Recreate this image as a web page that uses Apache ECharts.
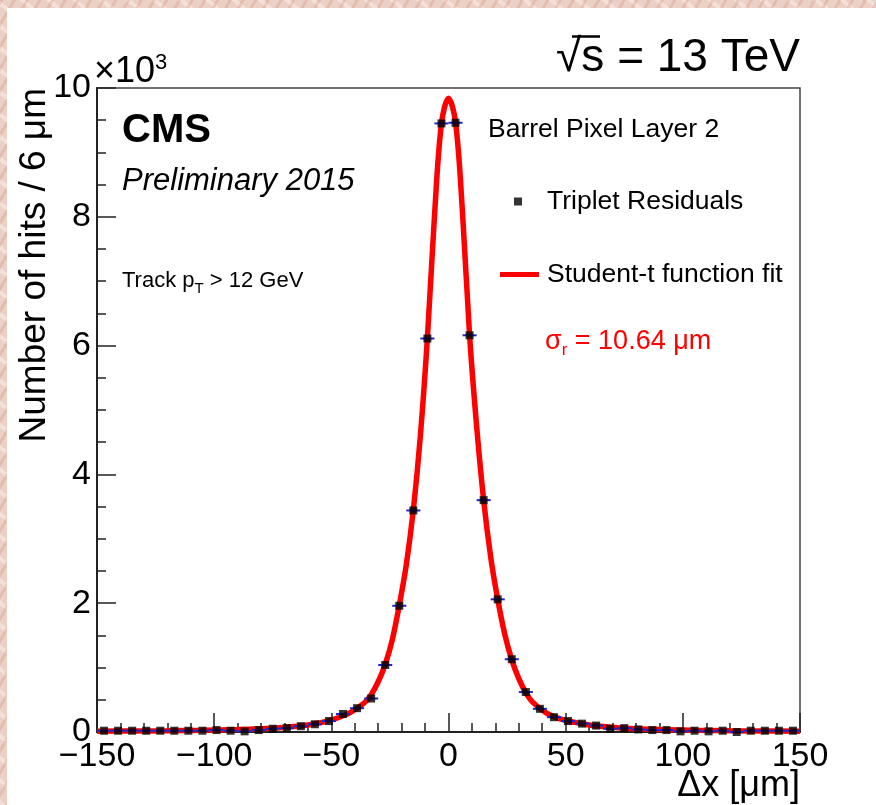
<!DOCTYPE html>
<html>
<head>
<meta charset="utf-8">
<title>Barrel Pixel Layer 2 residuals</title>
<script src="https://cdn.jsdelivr.net/npm/echarts@6/dist/echarts.min.js"></script>
<style>
	html, body { margin: 0; padding: 0; }
	body {
		width: 876px; height: 805px; overflow: hidden;
		background-color: #ead0c5;
		background-image:
			repeating-linear-gradient(120deg, rgba(200,120,100,0.22) 0px, rgba(200,120,100,0.22) 3px, transparent 3px, transparent 11px),
			repeating-linear-gradient(40deg, rgba(255,245,240,0.45) 0px, rgba(255,245,240,0.45) 4px, transparent 4px, transparent 17px);
	}
	#chart { width: 876px; height: 805px; }
</style>
</head>
<body>
<div id="chart"></div>
<script>
	// bin centres of the residual histogram (um), bin width 6 um
	const binWidth = 6
	const binCenters = [
		-147, -141, -135, -129, -123, -117, -111, -105, -99, -93,
		-87, -81, -75, -69, -63, -57, -51, -45, -39, -33,
		-27, -21, -15, -9, -3, 3, 9, 15, 21, 27,
		33, 39, 45, 51, 57, 63, 69, 75, 81, 87,
		93, 99, 105, 111, 117, 123, 129, 135, 141, 147
	]
	// hits per bin, in units of 10^3
	const hits = [
		0.02, 0.02, 0.02, 0.02, 0.02, 0.02, 0.02, 0.02, 0.03, 0.02,
		0.01, 0.03, 0.05, 0.06, 0.09, 0.12, 0.17, 0.28, 0.37, 0.52,
		1.04, 1.96, 3.44, 6.11, 9.45, 9.46, 6.16, 3.60, 2.06, 1.13,
		0.62, 0.36, 0.23, 0.17, 0.13, 0.10, 0.05, 0.06, 0.04, 0.03,
		0.03, 0.01, 0.02, 0.01, 0.02, 0.00, 0.02, 0.02, 0.02, 0.02
	]
	// student-t fit curve
	const fitX = [
		-150, -135, -120, -105, -90, -80, -72, -66, -60, -54, -48, -42,
		-36, -33, -30, -27, -24, -21, -18, -15, -12, -9, -6, -3,
		0,
		3, 6, 9, 12, 15, 18, 21, 24, 27, 30, 33, 36,
		42, 48, 54, 60, 66, 72, 80, 90, 105, 120, 135, 150
	]
	const fitY = [
		0.012, 0.015, 0.019, 0.026, 0.037, 0.05, 0.065, 0.085, 0.11, 0.15, 0.21, 0.3,
		0.45, 0.58, 0.78, 1.05, 1.43, 1.97, 2.6, 3.45, 4.6, 6.12, 8.0, 9.45,
		9.84,
		9.47, 8.05, 6.16, 4.75, 3.6, 2.72, 2.06, 1.52, 1.12, 0.83, 0.61, 0.46,
		0.29, 0.2, 0.15, 0.11, 0.085, 0.065, 0.05, 0.037, 0.026, 0.019, 0.015, 0.012
	]
	const xTicks = { min: -150, max: 150, interval: 50 }
	const yTicks = { min: 0, max: 10, interval: 2 }

	const font = 'Liberation Sans, Arial, Helvetica, sans-serif'
	const axisColor = '#222'

	let points = binCenters.map((x, i) => [x, hits[i]])
	let curve = fitX.map((x, i) => [x, fitY[i]])

	let chart = echarts.init(document.getElementById('chart'))

	let option = {
		animation: false,
		backgroundColor: 'transparent',
		grid: {
			left: 97,
			top: 88,
			right: 76,
			bottom: 73,
			show: true,
			borderColor: '#444',
			borderWidth: 1.5,
			backgroundColor: 'transparent'
		},
		legend: [
			{
				left: 514,
				top: 188,
				padding: 0,
				itemWidth: 8,
				itemHeight: 8,
				selectedMode: false,
				data: [{ name: 'Triplet Residuals', icon: 'rect', itemStyle: { color: '#000' } }],
				textStyle: { fontFamily: font, fontSize: 26.5, color: '#000', padding: [0, 0, 0, 20] }
			},
			{
				left: 500,
				top: 261,
				padding: 0,
				itemWidth: 39,
				itemHeight: 5,
				selectedMode: false,
				data: [{ name: 'Student-t function fit', icon: 'rect', itemStyle: { color: '#ff0000' } }],
				textStyle: { fontFamily: font, fontSize: 26.5, color: '#000', padding: [0, 0, 0, 3] }
			}
		],
		xAxis: {
			type: 'value',
			min: xTicks.min,
			max: xTicks.max,
			interval: xTicks.interval,
			axisLine: { onZero: false, lineStyle: { color: axisColor, width: 2 } },
			axisTick: { inside: true, length: 19, lineStyle: { color: axisColor, width: 1.5 } },
			minorTick: { show: true, splitNumber: 5, length: 9, lineStyle: { color: axisColor, width: 1.5 } },
			splitLine: { show: false },
			axisLabel: {
				margin: 8,
				fontFamily: font,
				fontSize: 34,
				color: '#000',
				formatter: v => (v < 0 ? '\u2212' + (-v) : '' + v)
			}
		},
		yAxis: {
			type: 'value',
			min: yTicks.min,
			max: yTicks.max,
			interval: yTicks.interval,
			axisLine: { show: true, onZero: false, lineStyle: { color: axisColor, width: 2 } },
			axisTick: { show: true, inside: true, length: 19, lineStyle: { color: axisColor, width: 1.5 } },
			minorTick: { show: true, splitNumber: 4, length: 9, lineStyle: { color: axisColor, width: 1.5 } },
			splitLine: { show: false },
			axisLabel: { margin: 6, fontFamily: font, fontSize: 34, color: '#000' }
		},
		series: [
			{
				name: 'Student-t function fit',
				type: 'line',
				data: curve,
				symbol: 'none',
				smooth: 0.35,
				lineStyle: { color: '#ff0000', width: 5.5 },
				itemStyle: { color: '#ff0000' },
				z: 2
			},
			{
				// horizontal error bars = bin width
				type: 'custom',
				data: points,
				z: 3,
				silent: true,
				renderItem: (params, api) => {
					let x = api.value(0)
					let y = api.value(1)
					let p1 = api.coord([x - binWidth / 2, y])
					let p2 = api.coord([x + binWidth / 2, y])
					return {
						type: 'line',
						shape: { x1: p1[0], y1: p1[1], x2: p2[0], y2: p2[1] },
						style: { stroke: '#2323d2', lineWidth: 2 }
					}
				}
			},
			{
				name: 'Triplet Residuals',
				type: 'scatter',
				data: points,
				symbol: 'rect',
				symbolSize: 8,
				itemStyle: { color: '#000' },
				z: 4
			}
		],
		graphic: [
			{
				type: 'rect',
				z: -10,
				silent: true,
				shape: { x: 7, y: 8, width: 869, height: 797 },
				style: { fill: '#fff' }
			},
			{
				type: 'text', x: 800, y: 58, z: 10,
				style: { text: '\u221As = 13 TeV', fontFamily: font, fontSize: 46, fill: '#000', align: 'right', verticalAlign: 'middle' }
			},
			{
				// overline of the square root
				type: 'line', z: 10, silent: true,
				shape: { x1: 572, y1: 36.5, x2: 600, y2: 36.5 },
				style: { stroke: '#000', lineWidth: 2.5 }
			},
			{
				type: 'text', x: 94, y: 52, z: 10,
				style: {
					text: '{a|\u00D710}{s|3}',
					align: 'left',
					verticalAlign: 'top',
					rich: {
						a: { fontFamily: font, fontSize: 36, fill: '#000', lineHeight: 38, verticalAlign: 'bottom' },
						s: { fontFamily: font, fontSize: 22, fill: '#000', lineHeight: 38, verticalAlign: 'top' }
					}
				}
			},
			{
				type: 'text', x: 35, y: 88, z: 10, rotation: Math.PI / 2,
				style: { text: 'Number of hits / 6 \u03BCm', fontFamily: font, fontSize: 37, fill: '#000', align: 'right', verticalAlign: 'middle' }
			},
			{
				type: 'text', x: 800, y: 786, z: 10,
				style: { text: '\u0394x [\u03BCm]', fontFamily: font, fontSize: 36, fill: '#000', align: 'right', verticalAlign: 'middle' }
			},
			{
				type: 'text', x: 122, y: 131, z: 10,
				style: { text: 'CMS', fontFamily: font, fontWeight: 'bold', fontSize: 40, fill: '#000', verticalAlign: 'middle' }
			},
			{
				type: 'text', x: 122, y: 181, z: 10,
				style: { text: 'Preliminary 2015', fontFamily: font, fontStyle: 'italic', fontSize: 31, fill: '#000', verticalAlign: 'middle' }
			},
			{
				type: 'text', x: 122, y: 281, z: 10,
				style: {
					text: '{a|Track p}{b|T}{a| > 12 GeV}',
					verticalAlign: 'middle',
					rich: {
						a: { fontFamily: font, fontSize: 22, fill: '#000', lineHeight: 30 },
						b: { fontFamily: font, fontSize: 15, fill: '#000', lineHeight: 30, verticalAlign: 'bottom' }
					}
				}
			},
			{
				type: 'text', x: 488, y: 130, z: 10,
				style: { text: 'Barrel Pixel Layer 2', fontFamily: font, fontSize: 26.5, fill: '#000', verticalAlign: 'middle' }
			},
			{
				type: 'text', x: 545, y: 342, z: 10,
				style: {
					text: '{a|\u03C3}{b|r}{a| = 10.64 \u03BCm}',
					verticalAlign: 'middle',
					rich: {
						a: { fontFamily: font, fontSize: 27, fill: '#ff0000', lineHeight: 34 },
						b: { fontFamily: font, fontSize: 17, fill: '#ff0000', lineHeight: 34, verticalAlign: 'bottom' }
					}
				}
			}
		]
	}

	chart.setOption(option)
</script>
</body>
</html>
